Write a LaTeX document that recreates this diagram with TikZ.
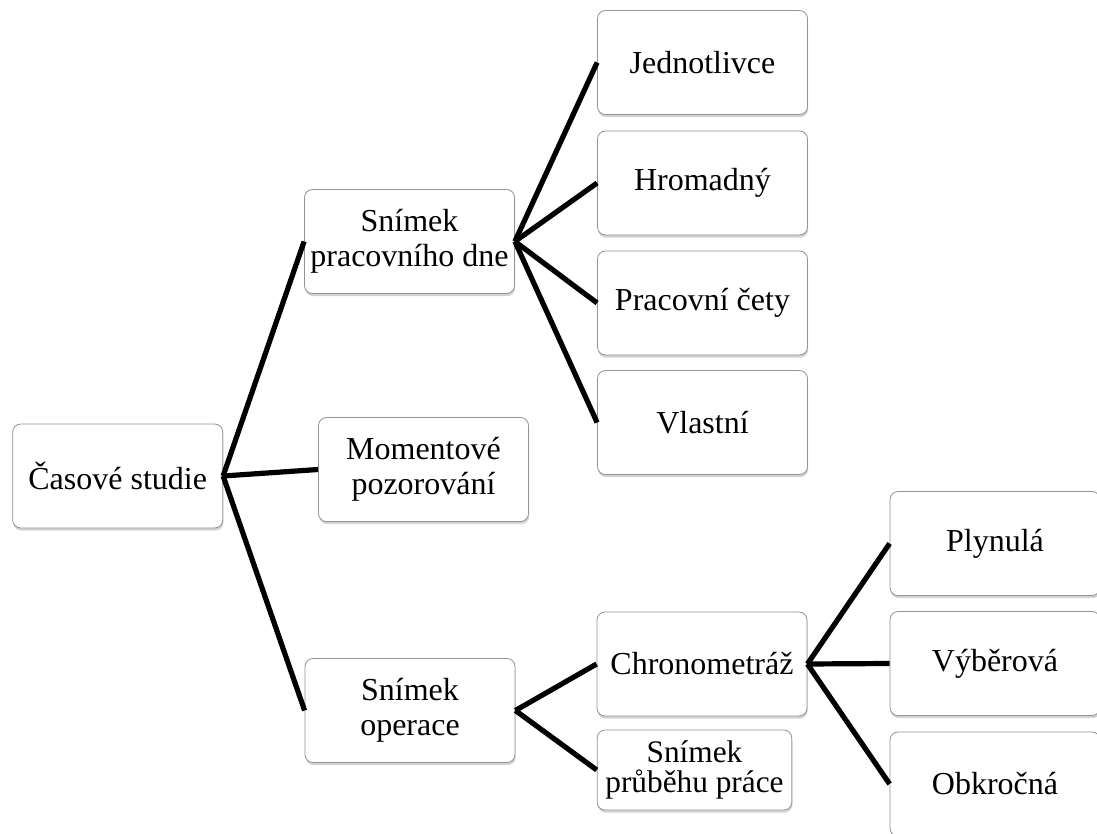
\documentclass[tikz,border=0pt]{standalone}
\usepackage{fontspec}
\setmainfont{Liberation Serif}
\usetikzlibrary{shadows}

\begin{document}
\begin{tikzpicture}[x=0.75pt, y=-0.75pt,
    box/.style={draw=gray!85, fill=white, rounded corners=6pt, line width=0.6pt,
      drop shadow={shadow xshift=0.5pt, shadow yshift=-2pt, opacity=0.35, fill=gray},
      minimum width=157.5pt, minimum height=78pt, inner sep=0pt, align=center,
      font=\fontsize{24}{26.5}\selectfont},
    link/.style={line width=3.9pt}]
    \useasboundingbox (0,0) rectangle (1097,834);

    % Root
    \node[box] (casove) at (117.7,476) {Časové studie};

    % First level
    \node[box] (snimekpd) at (409.5,241.5) {Snímek\\pracovního dne};
    \node[box] (moment) at (423.5,469.5) {Momentové\\pozorování};
    \node[box] (snimekop) at (410,710.5) {Snímek\\operace};

    % Kinds of the working day record
    \node[box] (jednotlivce) at (702.5,62.5) {Jednotlivce};
    \node[box] (hromadny) at (702.5,183) {Hromadný};
    \node[box] (cety) at (702.5,303) {Pracovní čety};
    \node[box] (vlastni) at (702.5,422.5) {Vlastní};

    % Kinds of the operation record
    \node[box] (chrono) at (702,664) {Chronometráž};
    \node[box, minimum width=146pt, minimum height=60pt,
      font=\fontsize{23.5}{23}\selectfont] (prubeh) at (694.5,770) {Snímek\\průběhu práce};

    % Kinds of the chronometry
    \node[box] (plynula) at (995,543.5) {Plynulá};
    \node[box] (vyberova) at (995,663.5) {Výběrová};
    \node[box] (obkrocna) at (995,784) {Obkročná};

    % Links
    \draw[link] (casove.east) -- (snimekpd.west);
    \draw[link] (casove.east) -- (moment.west);
    \draw[link] (casove.east) -- (snimekop.west);
    \foreach \child in {jednotlivce, hromadny, cety, vlastni}
        \draw[link] (snimekpd.east) -- (\child.west);
    \draw[link] (snimekop.east) -- (chrono.west);
    \draw[link] (snimekop.east) -- (prubeh.west);
    \foreach \child in {plynula, vyberova, obkrocna}
        \draw[link] (chrono.east) -- (\child.west);
\end{tikzpicture}
\end{document}
